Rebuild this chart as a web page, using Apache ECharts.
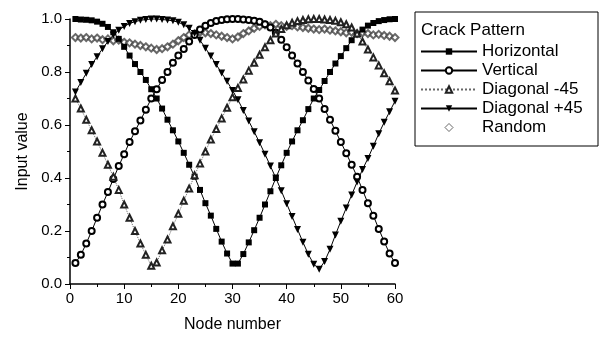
<!DOCTYPE html>
<html lang="en">

<head>
    <meta charset="UTF-8">
    <title>Crack Pattern</title>
    <style>
        html, body { margin: 0; padding: 0; background: #fff; }
        .box { width: 604px; height: 338px; }
    </style>
    <script src="https://cdn.jsdelivr.net/npm/echarts@6/dist/echarts.min.js"></script>
</head>

<body>
    <div class="box" id="main"></div>
    <script>
        // node numbers 1..60
        const nodes = [];
        for (let i = 1; i <= 60; i++) nodes.push(i);

        // values, one per node
        const horizontal = [1.0, 0.998, 0.997, 0.995, 0.99, 0.982, 0.97, 0.95, 0.925, 0.895,
            0.862, 0.83, 0.80, 0.77, 0.735, 0.70, 0.662, 0.62, 0.58, 0.538,
            0.495, 0.45, 0.405, 0.355, 0.305, 0.258, 0.208, 0.16, 0.115, 0.077,
            0.077, 0.113, 0.157, 0.203, 0.25, 0.30, 0.35, 0.40, 0.448, 0.495,
            0.538, 0.58, 0.618, 0.66, 0.70, 0.732, 0.766, 0.80, 0.832, 0.86,
            0.89, 0.92, 0.942, 0.96, 0.975, 0.985, 0.992, 0.996, 0.999, 1.0];
        const vertical = [0.079, 0.11, 0.153, 0.20, 0.25, 0.30, 0.347, 0.396, 0.445, 0.49,
            0.536, 0.576, 0.617, 0.658, 0.70, 0.735, 0.77, 0.80, 0.835, 0.862,
            0.887, 0.915, 0.94, 0.96, 0.975, 0.985, 0.992, 0.996, 0.999, 1.0,
            1.0, 0.998, 0.996, 0.993, 0.99, 0.98, 0.968, 0.948, 0.922, 0.893,
            0.862, 0.832, 0.80, 0.768, 0.736, 0.70, 0.66, 0.62, 0.578, 0.536,
            0.493, 0.45, 0.405, 0.355, 0.305, 0.258, 0.208, 0.16, 0.115, 0.079];
        const diagMinus = [0.70, 0.662, 0.62, 0.58, 0.538, 0.495, 0.45, 0.405, 0.355, 0.30,
            0.25, 0.20, 0.153, 0.11, 0.069, 0.081, 0.127, 0.168, 0.218, 0.265,
            0.314, 0.36, 0.41, 0.455, 0.50, 0.545, 0.585, 0.625, 0.665, 0.705,
            0.74, 0.772, 0.805, 0.835, 0.865, 0.893, 0.92, 0.945, 0.962, 0.976,
            0.986, 0.992, 0.996, 0.999, 1.0, 1.0, 0.998, 0.996, 0.993, 0.988,
            0.98, 0.968, 0.945, 0.915, 0.885, 0.855, 0.825, 0.795, 0.765, 0.73];
        const diagPlus = [0.725, 0.76, 0.795, 0.828, 0.858, 0.888, 0.915, 0.94, 0.958, 0.972,
            0.983, 0.99, 0.995, 0.998, 1.0, 1.0, 0.998, 0.996, 0.993, 0.988,
            0.978, 0.965, 0.945, 0.92, 0.89, 0.86, 0.828, 0.796, 0.765, 0.73,
            0.695, 0.655, 0.615, 0.575, 0.533, 0.49, 0.445, 0.40, 0.352, 0.303,
            0.255, 0.206, 0.158, 0.112, 0.075, 0.056, 0.085, 0.131, 0.185, 0.237,
            0.287, 0.336, 0.385, 0.432, 0.474, 0.52, 0.567, 0.61, 0.65, 0.69];
        const random = [0.93, 0.928, 0.93, 0.925, 0.928, 0.922, 0.925, 0.918, 0.92, 0.912,
            0.91, 0.905, 0.90, 0.895, 0.89, 0.885, 0.888, 0.895, 0.905, 0.918,
            0.93, 0.94, 0.945, 0.95, 0.948, 0.945, 0.94, 0.935, 0.93, 0.925,
            0.932, 0.945, 0.955, 0.965, 0.972, 0.978, 0.975, 0.98, 0.975, 0.972,
            0.975, 0.97, 0.968, 0.965, 0.962, 0.96, 0.962, 0.958, 0.955, 0.952,
            0.948, 0.95, 0.945, 0.948, 0.945, 0.94, 0.942, 0.938, 0.935, 0.93];

        const font = 'Liberation Sans, Arial, sans-serif';
        const pairs = arr => arr.map((v, i) => [nodes[i], v]);

        let chart = echarts.init(document.getElementById('main'), null, { renderer: 'canvas' });

        let option = {
            animation: false,
            backgroundColor: '#fff',
            title: {
                text: 'Crack Pattern',
                left: 421,
                top: 22,
                padding: 0,
                textStyle: { fontFamily: font, fontSize: 17, fontWeight: 'normal', color: '#000' }
            },
            graphic: [{
                type: 'rect',
                shape: { x: 415, y: 12, width: 183, height: 134 },
                style: { fill: 'none', stroke: '#000', lineWidth: 1 }
            }],
            legend: {
                orient: 'vertical',
                left: 420,
                top: 43,
                padding: 0,
                itemGap: 2,
                itemWidth: 56,
                itemHeight: 8,
                symbolKeepAspect: true,
                textStyle: { fontFamily: font, fontSize: 17, lineHeight: 17, color: '#000' },
                data: ['Horizontal', 'Vertical', 'Diagonal -45', 'Diagonal +45', {
                    name: 'Random',
                    icon: 'path://M5 0 L10 5 L5 10 L0 5 Z',
                    itemStyle: { color: '#fff', borderColor: '#444', borderWidth: 1 }
                }]
            },
            grid: { left: 70, right: 209, top: 19, bottom: 51 },
            xAxis: {
                type: 'value',
                min: 0,
                max: 60,
                interval: 10,
                name: 'Node number',
                nameLocation: 'middle',
                nameGap: 33,
                nameTextStyle: { fontFamily: font, fontSize: 16, color: '#000' },
                axisLine: { onZero: false, lineStyle: { color: '#000', width: 1.5 } },
                axisTick: { length: 5, lineStyle: { color: '#000' } },
                minorTick: { show: true, splitNumber: 2, length: 3, lineStyle: { color: '#000' } },
                axisLabel: { fontFamily: font, fontSize: 15, color: '#000', margin: 7 },
                splitLine: { show: false }
            },
            yAxis: {
                type: 'value',
                min: 0,
                max: 1,
                interval: 0.2,
                name: 'Input value',
                nameLocation: 'middle',
                nameGap: 35,
                nameTextStyle: { fontFamily: font, fontSize: 16, color: '#000' },
                axisLine: { show: true, onZero: false, lineStyle: { color: '#000', width: 1.5 } },
                axisTick: { show: true, length: 5, lineStyle: { color: '#000' } },
                minorTick: { show: true, splitNumber: 2, length: 3, lineStyle: { color: '#000' } },
                axisLabel: {
                    fontFamily: font, fontSize: 15, color: '#000', margin: 8,
                    formatter: v => v.toFixed(1)
                },
                splitLine: { show: false }
            },
            series: [{
                name: 'Horizontal',
                type: 'line',
                data: pairs(horizontal),
                symbol: 'rect',
                symbolSize: 6,
                itemStyle: { color: '#000' },
                lineStyle: { color: '#000', width: 1 }
            }, {
                name: 'Vertical',
                type: 'line',
                data: pairs(vertical),
                symbol: 'emptyCircle',
                symbolSize: 6,
                itemStyle: { color: '#000', borderWidth: 2.5 },
                lineStyle: { color: '#000', width: 1 }
            }, {
                name: 'Diagonal -45',
                type: 'line',
                data: pairs(diagMinus),
                symbol: 'emptyTriangle',
                symbolSize: 6,
                itemStyle: { color: '#222', borderWidth: 1 },
                lineStyle: { color: '#666', width: 1, type: 'dotted' }
            }, {
                name: 'Diagonal +45',
                type: 'line',
                data: pairs(diagPlus),
                symbol: 'triangle',
                symbolRotate: 180,
                symbolSize: 7,
                itemStyle: { color: '#000' },
                lineStyle: { color: '#000', width: 1 }
            }, {
                name: 'Random',
                type: 'scatter',
                data: pairs(random),
                symbol: 'emptyDiamond',
                symbolSize: 7,
                itemStyle: { color: '#444', borderWidth: 1 }
            }]
        };

        chart.setOption(option);
    </script>
</body>

</html>
